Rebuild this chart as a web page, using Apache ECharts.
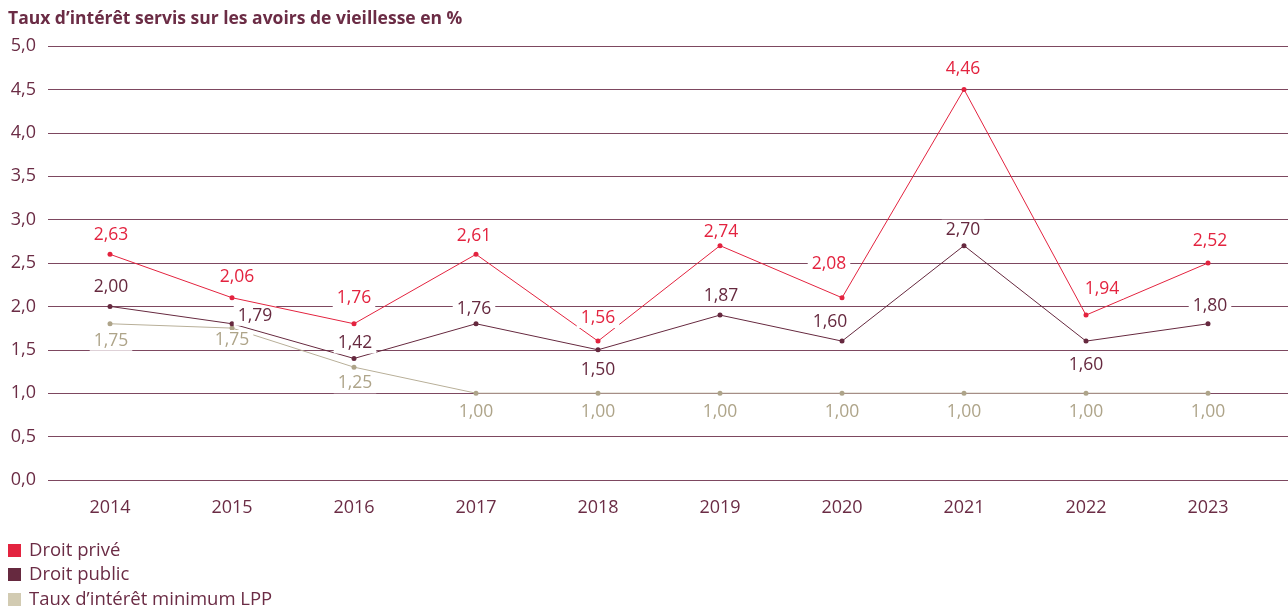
<!DOCTYPE html>
<html><head><meta charset="utf-8">
<script src="https://cdn.jsdelivr.net/npm/echarts@6/dist/echarts.min.js"></script>
<style>html,body{margin:0;padding:0;background:#fff}#c{width:1288px;height:608px}</style>
</head><body><div id="c"></div>
<script>
const years = ['2014','2015','2016','2017','2018','2019','2020','2021','2022','2023'];
const yTicks = [0, 0.5, 1, 1.5, 2, 2.5, 3, 3.5, 4, 4.5, 5];
const seriesNames = ['Droit privé', 'Droit public', 'Taux d’intérêt minimum LPP'];
// values as printed in labels
const priveLabels = [2.63, 2.06, 1.76, 2.61, 1.56, 2.74, 2.08, 4.46, 1.94, 2.52];
const publicLabels = [2.00, 1.79, 1.42, 1.76, 1.50, 1.87, 1.60, 2.70, 1.60, 1.80];
const lppLabels = [1.75, 1.75, 1.25, 1.00, 1.00, 1.00, 1.00, 1.00, 1.00, 1.00];
// plotted positions as drawn in the picture
const privePlot = [2.6, 2.1, 1.8, 2.6, 1.6, 2.7, 2.1, 4.5, 1.9, 2.5];
const publicPlot = [2.0, 1.8, 1.4, 1.8, 1.5, 1.9, 1.6, 2.7, 1.6, 1.8];
const lppPlot = [1.8, 1.75, 1.3, 1.0, 1.0, 1.0, 1.0, 1.0, 1.0, 1.0];

const FONT = '"Open Sans", sans-serif';
const C_PRIVE = '#e3233f', C_PUB = '#66293f', C_LPP = '#aea489', C_TXT = '#6b2c45';
const legendColors = [C_PRIVE, C_PUB, '#d2cbb2'];
const legendTops = [541, 565, 590];
const offPrive = [[1,-19],[5,-21],[0,-26],[-2,-18],[0,-23],[1,-14],[-13,-34],[-1,-20],[16,-26],[2,-22]];
const offPub = [[1,-19],[23,-8],[1,-15],[-2,-15],[0,20],[1,-19],[-12,-19],[-1,-16],[0,24],[2,-18]];
const offLpp = [[1,17],[0,12],[1,16],[0,19],[0,19],[0,19],[0,19],[0,19],[0,19],[0,19]];
const fmt = v => v.toFixed(2).replace('.', ',');
function mk(plot, labels, offs, color) {
  return plot.map((v, i) => ({
    value: v,
    label: { show: true, position: 'inside', offset: offs[i], formatter: fmt(labels[i]),
      color: color, fontFamily: FONT, fontSize: 17.5, backgroundColor: '#fff', padding: [1, 4] }
  }));
}
const chart = echarts.init(document.getElementById('c'), null, { renderer: 'canvas' });
chart.setOption({
  animation: false,
  title: { text: 'Taux d’intérêt servis sur les avoirs de vieillesse en %', left: 8, top: 10, padding: 0,
    textStyle: { fontFamily: FONT, fontSize: 17.5, fontWeight: 'bold', color: C_TXT } },
  legend: seriesNames.map((n, i) => ({
    left: 8, top: legendTops[i], padding: 0, itemWidth: 13, itemHeight: 13, icon: 'rect',
    selectedMode: false,
    textStyle: { fontFamily: FONT, fontSize: 18.5, lineHeight: 18, color: C_TXT, padding: [0,0,0,3] },
    data: [{ name: n, itemStyle: { color: legendColors[i] } }]
  })),
  grid: [
    { left: 48, right: 0, top: 46, bottom: 128 },
    { left: 49, right: 19, top: 46, bottom: 128 }
  ],
  xAxis: [
    { gridIndex: 0, type: 'category', data: years, show: false },
    { gridIndex: 1, type: 'category', data: years, boundaryGap: true,
      axisLine: { show: false }, axisTick: { show: false },
      axisLabel: { color: C_TXT, fontFamily: FONT, fontSize: 18, margin: 19 } }
  ],
  yAxis: [
    { gridIndex: 0, type: 'value', min: yTicks[0], max: yTicks[yTicks.length-1], interval: 0.5,
      axisLine: { show: false }, axisTick: { show: false },
      axisLabel: { color: C_TXT, fontFamily: FONT, fontSize: 18, margin: 12,
        formatter: v => v.toFixed(1).replace('.', ',') },
      splitLine: { lineStyle: { color: '#7d4860', width: 1 } } },
    { gridIndex: 1, type: 'value', min: 0, max: 5, interval: 0.5, show: false, splitLine: { show: false } }
  ],
  series: [
    { name: seriesNames[2], type: 'line', xAxisIndex: 1, yAxisIndex: 1,
      data: mk(lppPlot, lppLabels, offLpp, C_LPP), symbol: 'circle', symbolSize: 5,
      lineStyle: { color: '#b8af98', width: 1 }, itemStyle: { color: C_LPP }, z: 2 },
    { name: seriesNames[1], type: 'line', xAxisIndex: 1, yAxisIndex: 1,
      data: mk(publicPlot, publicLabels, offPub, C_PUB), symbol: 'circle', symbolSize: 5,
      lineStyle: { color: C_PUB, width: 1 }, itemStyle: { color: C_PUB }, z: 3 },
    { name: seriesNames[0], type: 'line', xAxisIndex: 1, yAxisIndex: 1,
      data: mk(privePlot, priveLabels, offPrive, C_PRIVE), symbol: 'circle', symbolSize: 5,
      lineStyle: { color: C_PRIVE, width: 1 }, itemStyle: { color: C_PRIVE }, z: 4 }
  ]
});
</script></body></html>
